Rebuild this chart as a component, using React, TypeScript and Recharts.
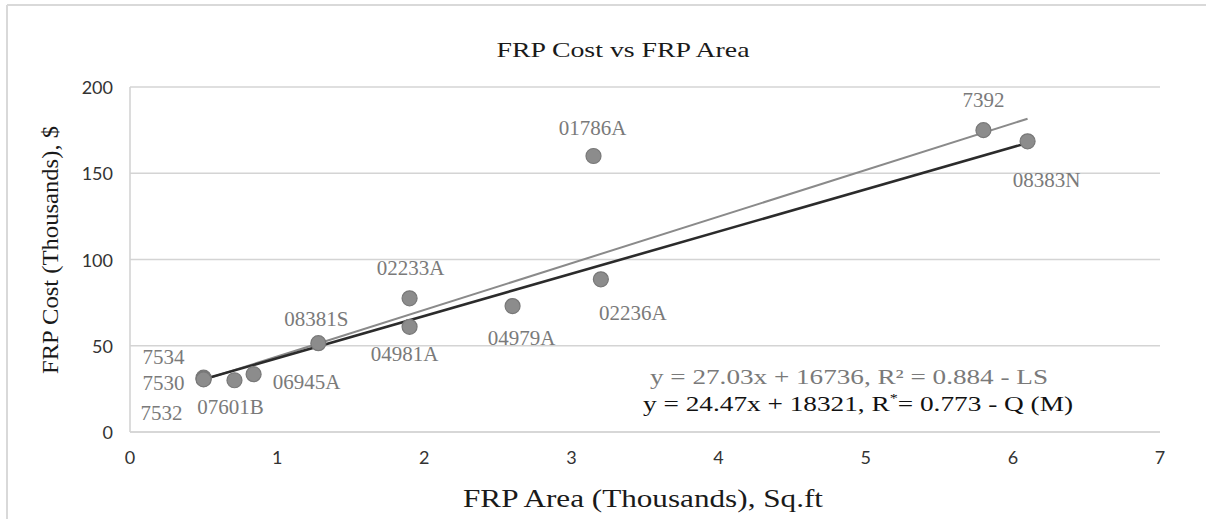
import React from 'react';
import { ScatterChart, Scatter, XAxis, YAxis, CartesianGrid, Customized } from 'recharts';

// ---- data ----
const PROJECTS = ['7534', '7530', '7532', '07601B', '06945A', '08381S', '04981A', '02233A', '04979A', '02236A', '01786A', '7392', '08383N'];
const AREA_K = [0.5, 0.5, 0.5, 0.71, 0.84, 1.28, 1.9, 1.9, 2.6, 3.2, 3.15, 5.8, 6.1];
const COST_K = [31.5, 31, 30.5, 30, 33.5, 51.5, 61, 77.5, 73, 88.5, 160, 175, 168.5];
const X_TICKS = [0, 1, 2, 3, 4, 5, 6, 7];
const Y_TICKS = [0, 50, 100, 150, 200];
const FIT_X_RANGE = [0.5, 6.1];
const LS_FIT = { slope: 27.03, intercept: 16.736 };
const QM_FIT = { slope: 24.47, intercept: 18.321 };

const TITLE = 'FRP Cost vs FRP Area';
const X_TITLE = 'FRP Area (Thousands), Sq.ft';
const Y_TITLE = 'FRP Cost (Thousands), $';
const EQ_LS = 'y = 27.03x + 16736, R\u00B2 = 0.884 - LS';
const EQ_QM_A = 'y = 24.47x + 18321, R';
const EQ_QM_B = '= 0.773 - Q (M)';

// ---- label placement (style, not data) ----
const LABEL_OFFSET: Record<string, [number, number]> = {
  '7534': [-40, -21],
  '7530': [-40, 4],
  '7532': [-42, 34],
  '07601B': [-4, 27],
  '06945A': [53, 8],
  '08381S': [-2, -24],
  '04981A': [-5, 27],
  '02233A': [1, -30],
  '04979A': [9, 32],
  '02236A': [32, 34],
  '01786A': [-1, -28],
  '7392': [0, -30],
  '08383N': [19, 39],
};

const points = PROJECTS.map((name, i) => ({ name, x: AREA_K[i], y: COST_K[i] }));
const fitLine = (f: { slope: number; intercept: number }) =>
  FIT_X_RANGE.map((x) => ({ x, y: f.slope * x + f.intercept }));
const lsLine = fitLine(LS_FIT);
const qmLine = fitLine(QM_FIT);

const FONT = '"Liberation Serif", "Times New Roman", serif';
const TICK_FONT = 'Lato, "Noto Sans", sans-serif';

const PointShape = (props: any) => {
  const { cx, cy, payload } = props;
  const off = LABEL_OFFSET[payload.name] || [0, -25];
  return (
    <g>
      <circle cx={cx} cy={cy} r={7.5} fill="#8c8c8c" stroke="#787878" strokeWidth={1.2} />
      <text
        x={cx + off[0]}
        y={cy + off[1]}
        textAnchor="middle"
        dominantBaseline="central"
        fontFamily={FONT}
        fontSize={21}
        fill="#7a7a7a"
      >
        {payload.name}
      </text>
    </g>
  );
};

const XTick = (props: any) => (
  <text x={props.x} y={props.y + 25} textAnchor="middle" dominantBaseline="central" fontFamily={TICK_FONT} fontSize={18} fill="#333">
    {props.payload.value}
  </text>
);

const YTick = (props: any) => (
  <text x={props.x - 17} y={props.y} textAnchor="end" dominantBaseline="central" fontFamily={TICK_FONT} fontSize={18} fill="#333">
    {props.payload.value}
  </text>
);

const Decorations = () => (
  <g>
    <line x1={7} y1={5} x2={1206} y2={5} stroke="#d9d9d9" strokeWidth={2} />
    <line x1={7} y1={5} x2={7} y2={519} stroke="#d9d9d9" strokeWidth={2} />
    <text x={623} y={57} textAnchor="middle" fontFamily={FONT} fontSize={22} fill="#1a1a1a" textLength={253} lengthAdjust="spacingAndGlyphs">
      {TITLE}
    </text>
    <text x={643} y={507} textAnchor="middle" fontFamily={FONT} fontSize={26} fill="#1a1a1a" textLength={360} lengthAdjust="spacingAndGlyphs">
      {X_TITLE}
    </text>
    <text
      x={0}
      y={0}
      transform="translate(58,250) rotate(-90)"
      textAnchor="middle"
      fontFamily={FONT}
      fontSize={24}
      fill="#1a1a1a"
      textLength={248}
      lengthAdjust="spacingAndGlyphs"
    >
      {Y_TITLE}
    </text>
    <text x={650} y={384} fontFamily={FONT} fontSize={22} fill="#7a7a7a" textLength={398} lengthAdjust="spacingAndGlyphs">
      {EQ_LS}
    </text>
    <text x={643} y={411} fontFamily={FONT} fontSize={22} fill="#111" textLength={430} lengthAdjust="spacingAndGlyphs">
      {EQ_QM_A}
      <tspan fontSize={13} dy={-9}>*</tspan>
      <tspan dy={9}>{EQ_QM_B}</tspan>
    </text>
  </g>
);

export default function App() {
  return (
    <div style={{ position: 'absolute', left: 0, top: 0, width: 1206, height: 519, background: '#fff' }}>
      <ScatterChart width={1206} height={519} margin={{ top: 87, right: 46, bottom: 37, left: 60 }}>
        <CartesianGrid horizontal vertical={false} stroke="#d4d4d4" strokeWidth={1.6} />
        <XAxis
          type="number"
          dataKey="x"
          domain={[0, 7]}
          ticks={X_TICKS}
          height={50}
          tickLine={false}
          tickSize={0}
          tickMargin={0}
          axisLine={{ stroke: '#d4d4d4', strokeWidth: 1.6 }}
          tick={XTick}
          allowDataOverflow
        />
        <YAxis
          type="number"
          dataKey="y"
          domain={[0, 200]}
          ticks={Y_TICKS}
          width={70}
          tickLine={false}
          tickSize={0}
          tickMargin={0}
          axisLine={{ stroke: '#d4d4d4', strokeWidth: 1.6 }}
          tick={YTick}
          allowDataOverflow
        />
        <Scatter data={lsLine} line={{ stroke: '#8a8a8a', strokeWidth: 2 }} shape={() => <g />} isAnimationActive={false} />
        <Scatter data={qmLine} line={{ stroke: '#2b2b2b', strokeWidth: 2.6 }} shape={() => <g />} isAnimationActive={false} />
        <Scatter data={points} shape={PointShape} isAnimationActive={false} />
        <Customized component={Decorations} />
      </ScatterChart>
    </div>
  );
}
